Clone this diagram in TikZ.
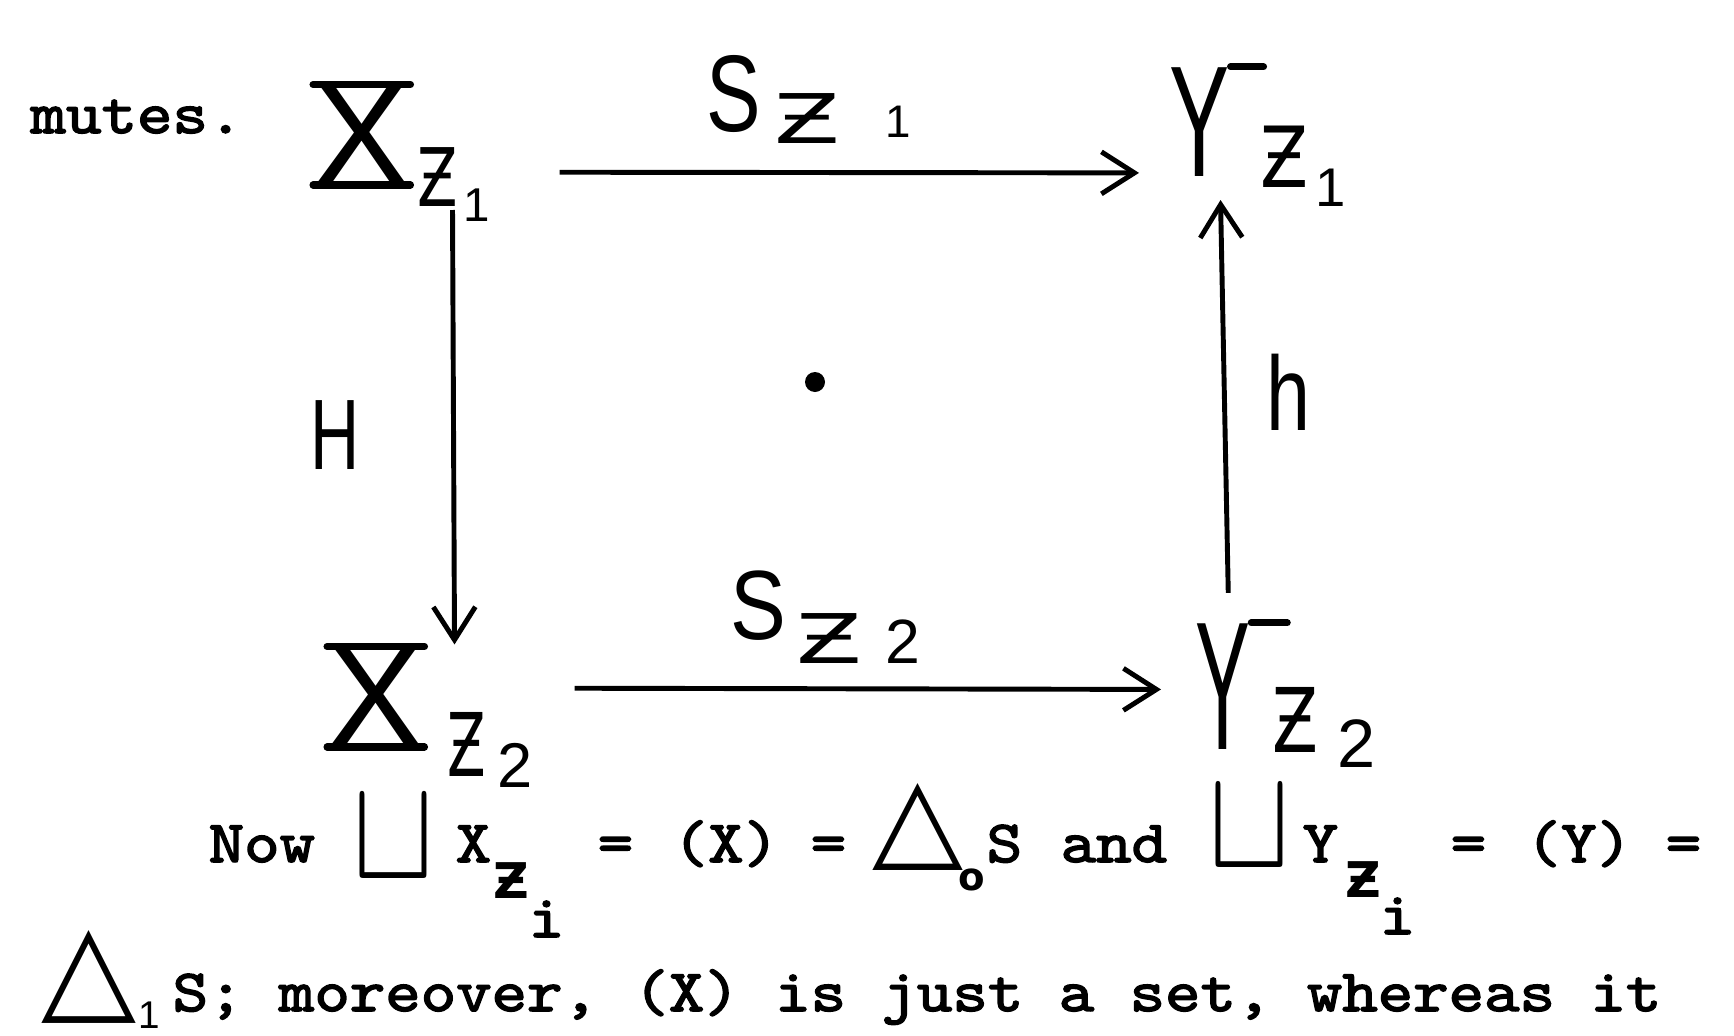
\documentclass[tikz,border=0pt]{standalone}
\usepackage{fontspec}
\usepackage{graphicx}
\usetikzlibrary{arrows.meta,calc}
\newfontfamily\typefont[FakeBold=2.5,FakeStretch=1.13]{lmmono10-regular.otf}
\newfontfamily\handfont{Liberation Sans}
\newfontfamily\zfont{DejaVu Sans}
\newcommand{\hw}[3]{\fontsize{#1}{#1}\selectfont\scalebox{#2}[1]{#3}}

\begin{document}
\begin{tikzpicture}[
  x=1cm,y=1cm,>={Straight Barb[length=3.3mm,width=4.2mm]},
  typed/.style={font=\typefont\fontsize{17pt}{20pt}\selectfont,inner sep=0pt,anchor=base west},
  typedz/.style={typed,font=\zfont\bfseries\fontsize{14pt}{14pt}\selectfont},
  hand/.style={font=\handfont,inner sep=0pt,anchor=south west},
  zhand/.style={font=\zfont,inner sep=0pt,anchor=south west},
  bigsym/.style={inner sep=0pt},
  mapline/.style={->,black,line width=1.4pt},
  crossbar/.style={black,line width=2pt,line cap=round}
]
\useasboundingbox (0,0) rectangle (17.34,10.35);
\node[typed] (mutes) at (0.30,9.02) {mutes.};
\node[hand] (X1) at (3.13,8.50) {\hw{41pt}{1}{X}};
\node[zhand] (X1z) at (4.17,8.28) {\hw{23pt}{.73}{Ƶ}};
\node[hand] (X1one) at (4.63,8.13) {\hw{13.5pt}{1}{1}};
\node[hand] (S1) at (7.06,9.02) {\hw{31pt}{.75}{S}};
\node[zhand] (S1z) at (7.74,8.91) {\hw{19.5pt}{1.4}{Ƶ}};
\node[hand] (S1one) at (8.85,8.97) {\hw{13pt}{1}{1}};
\node[hand] (Y1) at (11.69,8.58) {\hw{45pt}{.57}{Y}};
\node[zhand] (Y1z) at (12.60,8.47) {\hw{24pt}{.83}{Ƶ}};
\node[hand] (Y1one) at (13.15,8.28) {\hw{15.5pt}{1}{1}};
\node[hand] (H) at (3.10,5.65) {\hw{28.5pt}{.68}{H}};
\node[hand] (h) at (12.66,6.04) {\hw{30pt}{.75}{h}};
\node[circle,fill=black,inner sep=0pt,minimum size=2mm] (dot) at (8.15,6.53) {};
\node[hand] (X2) at (3.27,2.88) {\hw{41pt}{1}{X}};
\node[zhand] (X2z) at (4.47,2.58) {\hw{25pt}{.64}{Ƶ}};
\node[hand] (X2two) at (4.97,2.47) {\hw{18pt}{1}{2}};
\node[hand] (S2) at (7.30,3.94) {\hw{28pt}{.85}{S}};
\node[zhand] (S2z) at (7.96,3.71) {\hw{19.5pt}{1.4}{Ƶ}};
\node[hand] (S2two) at (8.85,3.71) {\hw{17.8pt}{1}{2}};
\node[hand] (Y2) at (11.95,2.85) {\hw{52pt}{.45}{Y}};
\node[zhand] (Y2z) at (12.72,2.82) {\hw{25.4pt}{.75}{Ƶ}};
\node[hand] (Y2two) at (13.37,2.67) {\hw{19.5pt}{1}{2}};
\draw[crossbar] (X1.north west) -- (X1.north east);
\draw[crossbar] (X1.south west) -- (X1.south east);
\draw[crossbar] (X2.north west) -- (X2.north east);
\draw[crossbar] (X2.south west) -- (X2.south east);
\draw[crossbar] (Y1.north east) -- ++(0.33,0);
\draw[crossbar] (Y2.north east) -- ++(0.36,0);
\draw[mapline] ([shift={(1.49,-.375)}]X1.east) -- ([shift={(-.30,-.51)}]Y1.west);
\draw[mapline] ([shift={(.42,-.25)}]X1.south east) -- ([shift={(.30,.02)}]X2.north east);
\draw[mapline] ([shift={(1.50,.085)}]X2.east) -- ([shift={(-.34,-.03)}]Y2.west);
\draw[mapline] ([shift={(-.23,.30)}]Y2.north east) -- ([shift={(-.10,-.23)}]Y1.south east);
\node[typed] (now) at (2.08,1.73) {Now};
\node[bigsym] (cupX) at (3.94,1.975) {\resizebox{0.82cm}{0.81cm}{$\sqcup$}};
\node[typed] (tX) at (4.55,1.73) {X};
\node[typedz] (tXz) at (4.93,1.37) {Ƶ};
\node[typed] (tXi) at (5.28,0.98) {i};
\node[typed] (eqA) at (5.97,1.73) {=};
\node[typed] (parX) at (6.72,1.73) {(X)};
\node[typed] (eqB) at (8.10,1.73) {=};
\node[bigsym] (triA) at (9.175,2.085) {\resizebox{0.91cm}{0.73cm}{\zfont △}};
\node[bigsym,font=\zfont\bfseries\fontsize{11pt}{11pt}\selectfont] (subo) at (9.72,1.55) {o};
\node[typed] (tS) at (9.86,1.73) {S};
\node[typed] (and) at (10.60,1.73) {and};
\node[bigsym] (cupY) at (12.49,2.08) {\resizebox{0.82cm}{0.80cm}{$\sqcup$}};
\node[typed] (tY) at (13.02,1.73) {Y};
\node[typedz] (tYz) at (13.45,1.38) {Ƶ};
\node[typed] (tYi) at (13.79,1.01) {i};
\node[typed] (eqC) at (14.50,1.73) {=};
\node[typed] (parY) at (15.25,1.73) {(Y)};
\node[typed] (eqD) at (16.65,1.73) {=};
\node[bigsym] (triB) at (0.895,0.58) {\resizebox{0.95cm}{0.78cm}{\zfont △}};
\node[hand] (subone) at (1.38,0.06) {\hw{11pt}{1}{1}};
\node[typed] (lastline) at (1.72,0.24) {S; moreover, (X) is just a set, whereas it};
\end{tikzpicture}
\end{document}
